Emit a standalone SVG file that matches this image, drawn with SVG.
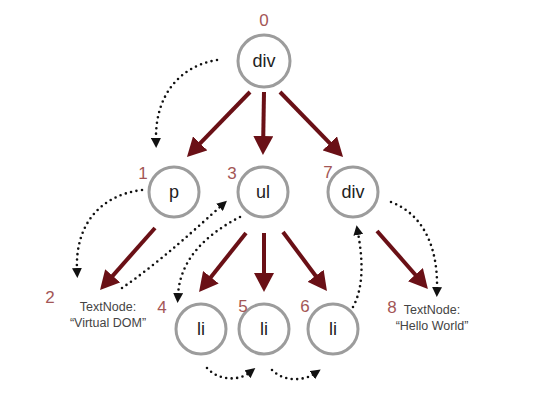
<svg xmlns="http://www.w3.org/2000/svg" width="533" height="411" viewBox="0 0 533 411">
<defs>
<marker id="red" viewBox="0 0 20 20" markerWidth="20" markerHeight="20" refX="4" refY="10" orient="auto" markerUnits="userSpaceOnUse">
<path d="M0,0 L19,10 L0,20 Z" fill="#6a1016"/>
</marker>
<marker id="blk" viewBox="0 0 10 10" markerWidth="10" markerHeight="10" refX="2" refY="5" orient="auto" markerUnits="userSpaceOnUse">
<path d="M0,0 L10,5 L0,10 Z" fill="#111"/>
</marker>
</defs>
<style>
.node{fill:#fff;stroke:#9c9c9c;stroke-width:3}
.lbl{font-family:"Liberation Sans",Arial,sans-serif;font-size:18px;fill:#222;text-anchor:middle}
.num{font-family:"Liberation Sans",Arial,sans-serif;font-size:17px;fill:#a35656;text-anchor:middle}
.tn{font-family:"Liberation Sans",Arial,sans-serif;font-size:12.5px;fill:#444;text-anchor:middle}
.edge{stroke:#6a1016;stroke-width:4;fill:none;marker-end:url(#red)}
.dot{stroke:#111;stroke-width:2.6;fill:none;stroke-dasharray:0 5.5;stroke-linecap:round;marker-end:url(#blk)}
</style>
<rect width="533" height="411" fill="#fff"/>
<g id="connectors">
<line class="edge" x1="250" y1="92" x2="197.4" y2="146.2"/>
<line class="edge" x1="264" y1="92" x2="263.2" y2="140"/>
<line class="edge" x1="280" y1="92" x2="332.6" y2="146.2"/>
<line class="edge" x1="155" y1="228" x2="110" y2="278.8"/>
<line class="edge" x1="246" y1="233" x2="208.4" y2="280.3"/>
<line class="edge" x1="264" y1="233" x2="264" y2="277"/>
<line class="edge" x1="283" y1="232" x2="318" y2="279"/>
<line class="edge" x1="377" y1="231" x2="418" y2="277.7"/>
<path class="dot" d="M217,60 C180,66 155,95 156,140"/>
<path class="dot" d="M142,190 C100,195 75,225 77,270"/>
<path class="dot" d="M122,288 C160,262 200,225 221,206"/>
<path class="dot" d="M240,217 C205,235 180,260 178,295"/>
<path class="dot" d="M207,368 C220,382 240,380 249,373"/>
<path class="dot" d="M272,370 C285,383 305,380 314,374"/>
<path class="dot" d="M353,307 C365,285 362,255 358,233"/>
<path class="dot" d="M391,202 C425,215 438,250 437,289"/>
</g>
<g id="n0"><circle class="node" cx="264" cy="61" r="26"/><text class="lbl" x="264" y="67">div</text><text class="num" x="264" y="26">0</text></g>
<g id="n1"><circle class="node" cx="174" cy="192" r="25"/><text class="lbl" x="174" y="198">p</text><text class="num" x="143" y="179">1</text></g>
<g id="n2"><text class="num" x="50" y="303">2</text><text class="tn" x="108" y="311">TextNode:</text><text class="tn" x="108" y="327">“Virtual DOM”</text></g>
<g id="n3"><circle class="node" cx="263" cy="192" r="25"/><text class="lbl" x="263" y="198">ul</text><text class="num" x="232" y="179">3</text></g>
<g id="n4"><circle class="node" cx="201" cy="329" r="25"/><text class="lbl" x="201" y="335">li</text><text class="num" x="162" y="313">4</text></g>
<g id="n5"><circle class="node" cx="264" cy="329" r="25"/><text class="lbl" x="264" y="335">li</text><text class="num" x="243" y="312">5</text></g>
<g id="n6"><circle class="node" cx="333" cy="329" r="25"/><text class="lbl" x="333" y="335">li</text><text class="num" x="305" y="312">6</text></g>
<g id="n7"><circle class="node" cx="353" cy="192" r="25"/><text class="lbl" x="353" y="198">div</text><text class="num" x="328" y="178">7</text></g>
<g id="n8"><text class="num" x="392" y="313">8</text><text class="tn" x="432" y="314">TextNode:</text><text class="tn" x="432" y="330">“Hello World”</text></g>
</svg>
